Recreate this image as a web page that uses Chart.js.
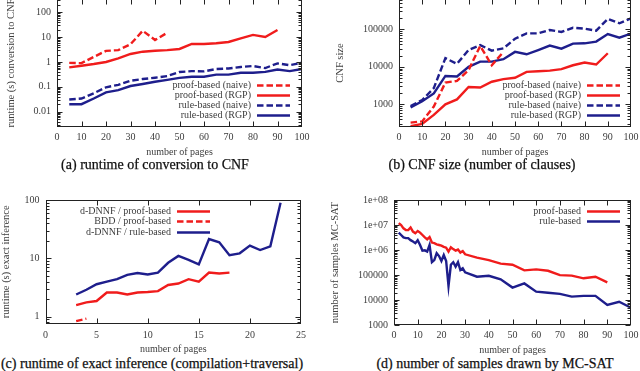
<!DOCTYPE html>
<html>
<head>
<meta charset="utf-8">
<script src="https://cdn.jsdelivr.net/npm/chart.js@4.4.1/dist/chart.umd.min.js"></script>
<style>
  body { margin: 0; background: #fff; width: 640px; height: 371px; overflow: hidden; position: relative; font-family: "Liberation Serif", serif; }
  canvas { position: absolute; }
  .cap { position: absolute; font-size: 14px; color: #111; -webkit-text-stroke: 0.25px #111; white-space: nowrap; transform: translate(-50%, -50%); }
</style>
</head>
<body>
<canvas id="chartA"></canvas>
<canvas id="chartB"></canvas>
<canvas id="chartC"></canvas>
<canvas id="chartD"></canvas>
<div class="cap" style="left:155px;top:165px">(a) runtime of conversion to CNF</div>
<div class="cap" style="left:482px;top:165px">(b) CNF size (number of clauses)</div>
<div class="cap" style="left:152px;top:364px">(c) runtime of exact inference (compilation+traversal)</div>
<div class="cap" style="left:495px;top:364px">(d) number of samples drawn by MC-SAT</div>
<script>
// (a) runtime of conversion to CNF
const aPages = [5, 10, 15, 20, 25, 30, 35, 40, 45, 50, 55, 60, 65, 70, 75, 80, 85, 90, 95, 100];
const aProofNaive = [0.92, 0.9, 1.6, 2.8, 3.0, 5.2, 18, 7.7, 15];
const aProofRGP = [0.61, 0.71, 0.83, 1.0, 1.4, 2.1, 2.6, 2.85, 3.0, 3.35, 5.3, 5.3, 5.7, 6.4, 9, 12.3, 10.2, 19.5];
const aRuleNaive = [0.031, 0.034, 0.055, 0.096, 0.12, 0.177, 0.206, 0.233, 0.27, 0.395, 0.43, 0.42, 0.52, 0.55, 0.63, 0.69, 0.57, 0.88, 0.74, 0.94];
const aRuleRGP = [0.02, 0.02, 0.034, 0.06, 0.074, 0.108, 0.13, 0.16, 0.19, 0.23, 0.256, 0.256, 0.31, 0.31, 0.37, 0.37, 0.4, 0.5, 0.43, 0.52];
const aYTicks = [0.01, 0.1, 1, 10, 100];
const aYLabels = ["0.01", "0.1", "1", "10", "100"];

// (b) CNF size
const bPages = aPages;
const bProofNaive = [325, 350, 870, 3800, 4200, 8200, 36000, 11000, 25000];
const bProofRGP = [260, 300, 520, 1000, 1350, 2900, 2800, 4000, 4700, 5100, 7300, 7600, 7900, 8700, 11000, 13000, 11500, 23000];
const bRuleNaive = [900, 1300, 2700, 17000, 12000, 28000, 38000, 27000, 31000, 56000, 78000, 78000, 96000, 85000, 110000, 104000, 92000, 190000, 145000, 196000];
const bRuleRGP = [830, 1200, 1950, 5700, 5500, 10000, 13700, 13700, 16000, 25000, 21600, 28000, 36700, 30500, 41500, 42300, 47000, 75000, 60000, 77000];
const bYTicks = [1000, 10000, 100000];
const bYLabels = ["1000", "10000", "100000"];

// (c) runtime of exact inference
const cPages = [3, 4, 5, 6, 7, 8, 9, 10, 11, 12, 13, 14, 15, 16, 17, 18, 19, 20, 21, 22, 23];
const cDnnfProof = [1.58, 1.76, 1.86, 2.6, 2.6, 2.4, 2.6, 2.65, 2.75, 3.5, 3.7, 4.4, 4.0, 5.7, 5.5, 5.7];
const cBddProof = [0.84, 0.93];
const cDnnfRule = [2.4, 2.9, 3.6, 4.0, 4.4, 5.2, 5.6, 5.3, 5.7, 8.4, 11, 9.4, 7.9, 21.4, 18.8, 11.3, 12.2, 16.5, 13.9, 16.1, 90];
const cYTicks = [1, 10, 100];
const cYLabels = ["1", "10", "100"];

// (d) number of samples drawn by MC-SAT
const dPages = [2, 3, 4, 5, 6, 7, 8, 9, 10, 11, 12, 13, 14, 15, 16, 17, 18, 19, 20, 21, 22, 23, 24, 25, 26, 27, 28, 29, 30,
  35, 40, 45, 50, 55, 60, 65, 70, 75, 80, 85, 90, 95, 100];
const dProof = [1.2e7, 1e7, 7.4e6, 6.3e6, 6.3e6, 8e6, 5.5e6, 4.7e6, 5.8e6, 5e6, 4e6, 3.2e6, 2.7e6, 3.3e6, 2e6, 1.9e6, 1.7e6, 1.6e6, 1.5e6, 1.35e6, 1.25e6, 8.7e5, 1.3e6, 1.1e6, 9.5e5, 1.05e6, 8e5, 9.2e5, 6.8e5,
  5e5, 4e5, 2.9e5, 2.6e5, 1.56e5, 1.7e5, 1.5e5, 1e5, 9.6e4, 7.5e4, 8.7e4, 5.2e4];
const dRule = [5e6, 4e6, 3.2e6, 3e6, 3e6, 2.5e6, 2.2e6, 1.9e6, 2.5e6, 1.6e6, 9.5e5, 9.8e5, 8.7e5, 1.6e6, 3.3e5, 4e5, 7.5e5, 5.8e5, 3.7e5, 6.4e5, 3.7e5, 3.7e4, 2.6e5, 3.3e5, 2.2e5, 3.3e5, 1.6e5, 1.9e5, 1.3e5,
  8.7e4, 9.5e4, 6.8e4, 3.2e4, 4.7e4, 2.2e4, 2e4, 1.8e4, 1.4e4, 1.5e4, 1.5e4, 6.5e3, 8.7e3, 5e3];
const dYTicks = [1000, 10000, 100000, 1e6, 1e7, 1e8];
const dYLabels = ["1000", "10000", "100000", "1e+06", "1e+07", "1e+08"];

const RED = "#f01c1c";
const BLUE = "#1e1e8c";
const INK = "#222";
const TXT = "#3c3c3c";
const DASH = [6.5, 3];

function pts(xs, ys) {
  return ys.map((y, i) => ({ x: xs[i], y: y }));
}

function series(label, xs, ys, color, dashed) {
  return { label: label, data: pts(xs, ys), borderColor: color, borderWidth: 2.4, borderDash: dashed ? DASH : [], fill: false };
}

// gnuplot-like box with inward ticks on all four sides
const gnuFrame = {
  id: "gnuFrame",
  afterDraw(chart) {
    const { ctx, chartArea: ca, scales } = chart;
    const L = Math.round(ca.left) + 0.5, R = Math.round(ca.right) - 0.5;
    const T = Math.round(ca.top) + 0.5, B = Math.round(ca.bottom) - 0.5;
    ctx.save();
    ctx.strokeStyle = INK;
    ctx.lineWidth = 1;
    ctx.beginPath();
    scales.x.ticks.forEach(t => {
      const px = Math.round(scales.x.getPixelForValue(t.value)) + 0.5;
      if (px < L || px > R) return;
      ctx.moveTo(px, B); ctx.lineTo(px, B - 5);
      ctx.moveTo(px, T); ctx.lineTo(px, T + 5);
    });
    scales.y.ticks.forEach(t => {
      const py = Math.round(scales.y.getPixelForValue(t.value)) + 0.5;
      const len = t.major === false ? 3 : 5;
      ctx.moveTo(L, py); ctx.lineTo(L + len, py);
      ctx.moveTo(R, py); ctx.lineTo(R - len, py);
    });
    ctx.stroke();
    ctx.strokeRect(L, T, R - L, B - T);
    ctx.restore();
  }
};

// key drawn in gnuplot style: text right-aligned, line sample on the right
const gnuKey = {
  id: "gnuKey",
  afterDatasetsDraw(chart, args, o) {
    const { ctx, chartArea: ca } = chart;
    const end = o.fromRight != null ? ca.right - o.fromRight : ca.left + o.fromLeft;
    ctx.save();
    ctx.font = '10px "Liberation Serif"';
    ctx.textAlign = "right";
    ctx.textBaseline = "middle";
    chart.data.datasets.forEach((ds, i) => {
      const y = Math.round(ca.top + o.top + i * o.rowH) + 0.5;
      ctx.fillStyle = TXT;
      ctx.fillText(ds.label, end - 39, y);
      ctx.strokeStyle = ds.borderColor;
      ctx.lineWidth = ds.borderWidth;
      ctx.setLineDash(ds.borderDash || []);
      ctx.beginPath();
      ctx.moveTo(end - 33, y);
      ctx.lineTo(end, y);
      ctx.stroke();
    });
    ctx.restore();
  }
};

function logTicks(min, max, majors) {
  const out = [];
  for (let e = Math.floor(Math.log10(min)); e <= Math.ceil(Math.log10(max)); e++) {
    for (let m = 1; m <= 9; m++) {
      const v = m * Math.pow(10, e);
      if (v >= min && v <= max) out.push({ value: v, major: majors.some(t => Math.abs(v / t - 1) < 1e-6) });
    }
  }
  return out;
}

function makeChart(id, o) {
  const el = document.getElementById(id);
  const top = o.area.t - 4;
  const width = Math.round(o.area.r + 16 - o.boxLeft);
  const height = Math.round(o.boxBottom - top);
  el.style.left = o.boxLeft + "px";
  el.style.top = top + "px";
  el.width = width;
  el.height = height;
  const yW = o.area.l - o.boxLeft;
  const xH = o.boxBottom - o.area.b;
  const font = { family: '"Liberation Serif"', size: 10 };
  return new Chart(el, {
    type: "line",
    data: { datasets: o.datasets },
    options: {
      responsive: false,
      animation: false,
      devicePixelRatio: 1,
      events: [],
      layout: { padding: { top: 4, right: 16, left: 0, bottom: 0 } },
      elements: { point: { radius: 0 }, line: { tension: 0 } },
      plugins: { legend: { display: false }, tooltip: { enabled: false }, gnuKey: o.key },
      scales: {
        x: {
          type: "linear", min: o.xMin, max: o.xMax,
          ticks: { stepSize: o.xStep, padding: o.xPad, font: font, color: TXT, maxRotation: 0, autoSkip: false },
          grid: { display: false, drawTicks: false },
          border: { display: false },
          title: { display: true, text: "number of pages", font: font, color: TXT, padding: 0 },
          afterFit(s) { s.height = xH; s.paddingLeft = 0; s.paddingRight = 0; }
        },
        y: {
          type: "logarithmic", min: o.yMin, max: o.yMax,
          afterBuildTicks(s) { s.ticks = logTicks(o.yMin, o.yMax, o.yTicks); },
          ticks: {
            padding: 6, font: font, color: TXT, autoSkip: false,
            callback(v) {
              const i = o.yTicks.findIndex(t => Math.abs(v / t - 1) < 1e-6);
              return i >= 0 ? o.yLabels[i] : "";
            }
          },
          grid: { display: false, drawTicks: false },
          border: { display: false },
          title: { display: true, text: o.yTitle, font: { family: '"Liberation Serif"', size: 10.5 }, color: TXT, padding: { top: o.yTitlePad, bottom: 0 } },
          afterFit(s) { s.width = yW; s.paddingTop = 0; s.paddingBottom = 0; }
        }
      }
    },
    plugins: [gnuFrame, gnuKey]
  });
}

makeChart("chartA", {
  boxLeft: 0, boxBottom: 158, area: { l: 57, t: -1, r: 302, b: 127 },
  xMin: 0, xMax: 100, xStep: 10, xPad: 4,
  yMin: 0.00242, yMax: 343, yTicks: aYTicks, yLabels: aYLabels,
  yTitle: "runtime (s) conversion to CNF", yTitlePad: 4.5,
  key: { fromRight: 12, top: 86, rowH: 10 },
  datasets: [
    series("proof-based (naive)", aPages, aProofNaive, RED, true),
    series("proof-based (RGP)", aPages, aProofRGP, RED, false),
    series("rule-based (naive)", aPages, aRuleNaive, BLUE, true),
    series("rule-based (RGP)", aPages, aRuleRGP, BLUE, false)
  ]
});

makeChart("chartB", {
  boxLeft: 320, boxBottom: 158, area: { l: 399, t: -1, r: 631, b: 127 },
  xMin: 0, xMax: 100, xStep: 10, xPad: 4,
  yMin: 248, yMax: 643000, yTicks: bYTicks, yLabels: bYLabels,
  yTitle: "CNF size", yTitlePad: 13.5,
  key: { fromRight: 11, top: 86, rowH: 10 },
  datasets: [
    series("proof-based (naive)", bPages, bProofNaive, RED, true),
    series("proof-based (RGP)", bPages, bProofRGP, RED, false),
    series("rule-based (naive)", bPages, bRuleNaive, BLUE, true),
    series("rule-based (RGP)", bPages, bRuleRGP, BLUE, false)
  ]
});

makeChart("chartC", {
  boxLeft: 0, boxBottom: 355, area: { l: 45.5, t: 200, r: 301, b: 323.5 },
  xMin: 0, xMax: 25, xStep: 5, xPad: 6,
  yMin: 0.765, yMax: 100, yTicks: cYTicks, yLabels: cYLabels,
  yTitle: "runtime (s) exact inference", yTitlePad: 0,
  key: { fromLeft: 164.5, top: 11, rowH: 10.3 },
  datasets: [
    series("d-DNNF / proof-based", cPages, cDnnfProof, RED, false),
    series("BDD / proof-based", cPages, cBddProof, RED, true),
    series("d-DNNF / rule-based", cPages, cDnnfRule, BLUE, false)
  ]
});

makeChart("chartD", {
  boxLeft: 320, boxBottom: 356, area: { l: 394, t: 200, r: 631, b: 325.3 },
  xMin: 0, xMax: 100, xStep: 10, xPad: 4,
  yMin: 1000, yMax: 1e8, yTicks: dYTicks, yLabels: dYLabels,
  yTitle: "number of samples MC-SAT", yTitlePad: 8.5,
  key: { fromRight: 11, top: 11, rowH: 10.3 },
  datasets: [
    series("proof-based", dPages, dProof, RED, false),
    series("rule-based", dPages, dRule, BLUE, false)
  ]
});
</script>
</body>
</html>
